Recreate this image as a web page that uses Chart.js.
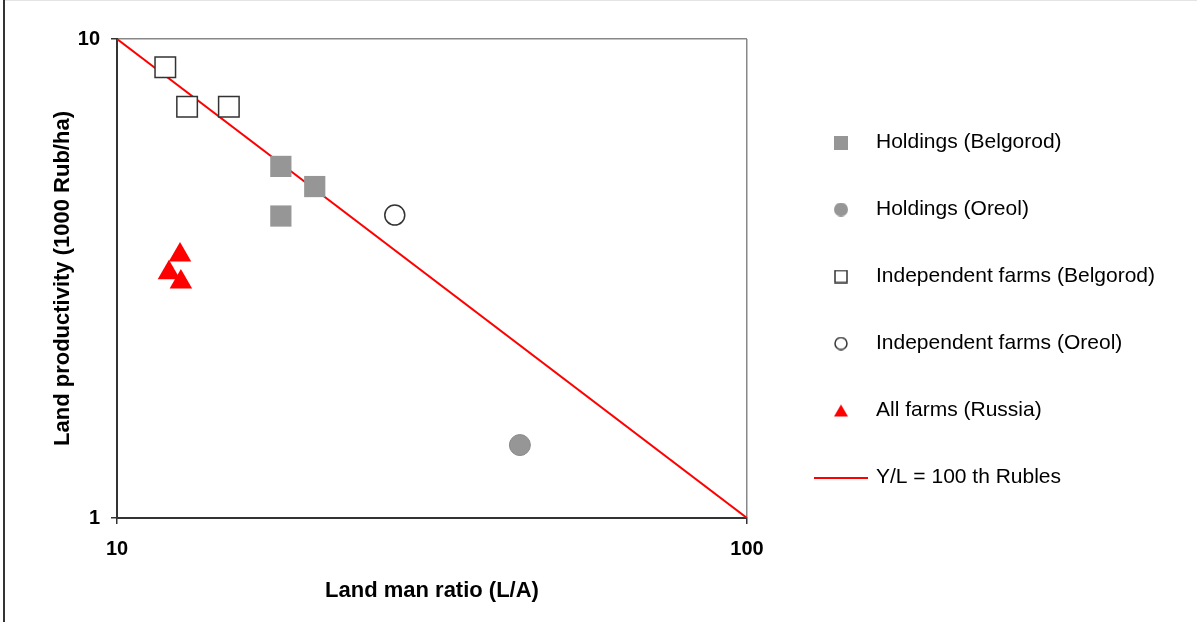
<!DOCTYPE html>
<html>
<head>
<meta charset="utf-8">
<script src="https://cdn.jsdelivr.net/npm/chart.js@4/dist/chart.umd.min.js"></script>
<style>
  html, body { margin: 0; padding: 0; background: #fff; }
  #wrap { position: relative; width: 1197px; height: 622px; overflow: hidden; background: #fff; }
  #c { position: absolute; left: 0; top: 0; }
  #bl { position: absolute; left: 3px; top: 0; width: 2px; height: 622px; background: #333; }
  #bt { position: absolute; left: 5px; top: 0; width: 1192px; height: 1px; background: #e4e4e4; }
</style>
</head>
<body>
<div id="wrap">
  <canvas id="c" width="1197" height="622"></canvas>
  <div id="bl"></div>
  <div id="bt"></div>
</div>
<script>
// ---- data ----
const holdingsBelgorodX = [18.2, 20.6, 18.2];
const holdingsBelgorodY = [5.42, 4.92, 4.27];
const holdingsOreolX = [43.6];
const holdingsOreolY = [1.42];
const indepBelgorodX = [11.93, 12.92, 15.05];
const indepBelgorodY = [8.73, 7.22, 7.22];
const indepOreolX = [27.6];
const indepOreolY = [4.29];
const russiaX = [12.59, 12.09, 12.63];
const russiaY = [3.54, 3.25, 3.11];
const lineX = [10, 100];
const lineY = [10, 1];
const xTickValues = [10, 100];
const yTickValues = [1, 10];
const seriesNames = ['Holdings (Belgorod)', 'Holdings (Oreol)', 'Independent farms (Belgorod)', 'Independent farms (Oreol)', 'All farms (Russia)', 'Y/L = 100 th Rubles'];

function pts(xs, ys) { return xs.map((x, i) => ({ x: x, y: ys[i] })); }

const GRAY = '#969696';
const DARK = '#333333';
const RED = '#ff0000';

// legend marker images
function mk(w, h, draw) {
  const c = document.createElement('canvas');
  c.width = w; c.height = h;
  draw(c.getContext('2d'));
  return c;
}
const legendImgs = [
  mk(14, 14, g => { g.fillStyle = GRAY; g.fillRect(0, 0, 14, 14); }),
  mk(14, 14, g => { g.fillStyle = GRAY; g.beginPath(); g.arc(7, 7, 7, 0, Math.PI * 2); g.fill(); }),
  mk(14, 14, g => { g.fillStyle = '#fff'; g.fillRect(0, 0, 14, 14); g.strokeStyle = DARK; g.lineWidth = 1.5; g.strokeRect(1, 1, 12, 12); }),
  mk(14, 14, g => { g.fillStyle = '#fff'; g.strokeStyle = DARK; g.lineWidth = 1.5; g.beginPath(); g.arc(7, 7, 6, 0, Math.PI * 2); g.fill(); g.stroke(); }),
  mk(14, 14, g => { g.fillStyle = RED; g.beginPath(); g.moveTo(7, 1); g.lineTo(14, 13); g.lineTo(0, 13); g.closePath(); g.fill(); }),
  mk(54, 2, g => { g.fillStyle = RED; g.fillRect(0, 0, 54, 2); })
];

function setTicks(values) {
  return function (scale) { scale.ticks = values.map(v => ({ value: v, major: true })); };
}

const chart = new Chart(document.getElementById('c'), {
  type: 'scatter',
  data: {
    datasets: [
      { label: seriesNames[0], data: pts(holdingsBelgorodX, holdingsBelgorodY), pointStyle: 'rect', pointRadius: 15, pointBackgroundColor: GRAY, pointBorderColor: GRAY, pointBorderWidth: 0 },
      { label: seriesNames[1], data: pts(holdingsOreolX, holdingsOreolY), pointStyle: 'circle', pointRadius: 10.5, pointBackgroundColor: GRAY, pointBorderColor: '#888', pointBorderWidth: 1 },
      { label: seriesNames[2], data: pts(indepBelgorodX, indepBelgorodY), pointStyle: 'rect', pointRadius: 14.5, pointBackgroundColor: '#fff', pointBorderColor: DARK, pointBorderWidth: 1.5 },
      { label: seriesNames[3], data: pts(indepOreolX, indepOreolY), pointStyle: 'circle', pointRadius: 10, pointBackgroundColor: '#fff', pointBorderColor: DARK, pointBorderWidth: 1.5 },
      { label: seriesNames[4], data: pts(russiaX, russiaY), pointStyle: 'triangle', pointRadius: 13, pointBackgroundColor: RED, pointBorderColor: RED, pointBorderWidth: 0 },
      { label: seriesNames[5], type: 'line', data: pts(lineX, lineY), borderColor: RED, borderWidth: 2, pointRadius: 0, fill: false, showLine: true }
    ]
  },
  options: {
    responsive: false,
    animation: false,
    events: [],
    layout: { padding: { left: 0, top: 39, right: 0, bottom: 0 } },
    scales: {
      x: {
        type: 'logarithmic', position: 'bottom', min: 10, max: 100,
        afterBuildTicks: setTicks(xTickValues),
        afterFit: s => { s.height = 104; },
        border: { display: true, color: DARK, width: 2 },
        grid: { display: true, color: '#888', lineWidth: 1.5, tickColor: DARK, tickLength: 6, drawOnChartArea: true },
        ticks: { autoSkip: false, maxRotation: 0, padding: 13, color: '#000', font: { family: '"Liberation Sans", Arial, sans-serif', size: 20, weight: 'bold' }, callback: v => String(v) },
        title: { display: true, text: 'Land man ratio (L/A)', color: '#000', font: { family: '"Liberation Sans", Arial, sans-serif', size: 22, weight: 'bold' }, padding: { top: 0, bottom: 18 } }
      },
      y: {
        type: 'logarithmic', position: 'left', min: 1, max: 10,
        afterBuildTicks: setTicks(yTickValues),
        afterFit: s => { s.width = 117; },
        border: { display: true, color: DARK, width: 2 },
        grid: { display: true, color: '#888', lineWidth: 1.5, tickColor: DARK, tickLength: 6, drawOnChartArea: true },
        ticks: { autoSkip: false, padding: 11, color: '#000', font: { family: '"Liberation Sans", Arial, sans-serif', size: 20, weight: 'bold' }, callback: v => String(v) },
        title: { display: true, text: 'Land productivity (1000 Rub/ha)', color: '#000', font: { family: '"Liberation Sans", Arial, sans-serif', size: 22, weight: 'bold' }, padding: { top: 50, bottom: 0 } }
      },
      y2: {
        type: 'linear', position: 'right', display: true,
        afterFit: s => { s.width = 23.5; },
        grid: { display: false },
        border: { display: false },
        ticks: { display: false }
      }
    },
    plugins: {
      tooltip: { enabled: false },
      legend: {
        display: true,
        position: 'right',
        align: 'start',
        maxWidth: 426.5,
        title: { display: true, text: '', font: { size: 10 }, padding: { top: 35, bottom: 0 } },
        labels: {
          usePointStyle: true,
          pointStyleWidth: 49,
          padding: 46,
          color: '#000',
          font: { family: '"Liberation Sans", Arial, sans-serif', size: 21 },
          generateLabels: function (ch) {
            const items = Chart.defaults.plugins.legend.labels.generateLabels(ch);
            // trailing blanks only widen the legend box so it reaches the fixed maxWidth
            items.forEach((it, i) => { it.pointStyle = legendImgs[i]; it.rotation = 0; it.text = it.text + '            '; });
            return items;
          }
        }
      }
    }
  }
});
</script>
</body>
</html>
